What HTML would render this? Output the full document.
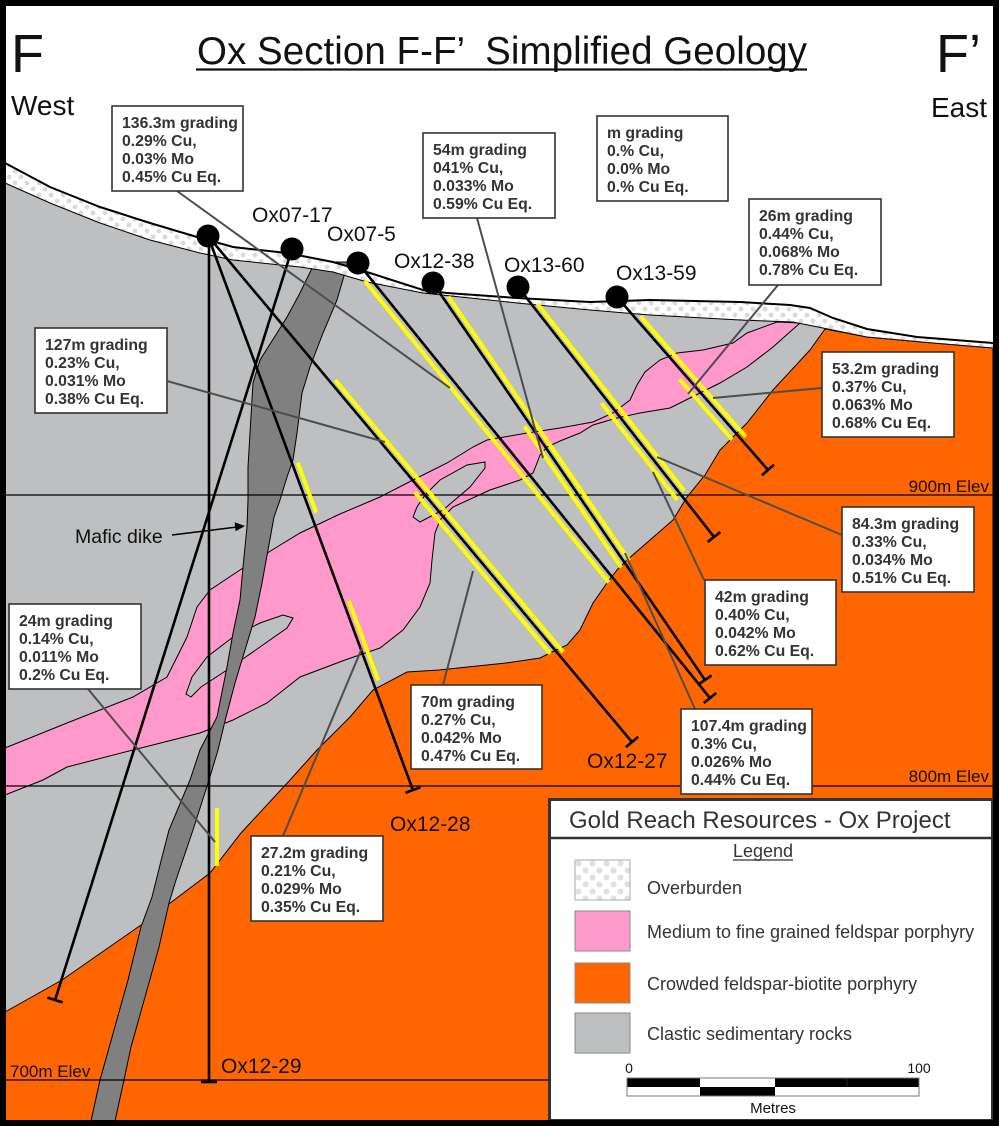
<!DOCTYPE html>
<html><head><meta charset="utf-8"><style>
html,body{margin:0;padding:0;background:#fff;}
svg{display:block;}
text{font-family:"Liberation Sans",Arial,sans-serif;}
.bx{fill:#fff;stroke:#333;stroke-width:1.6;}
.bt{font-weight:bold;font-size:15.8px;fill:#333;}
.hl{font-size:21px;fill:#111;}
.ld{stroke:#4d4d4d;stroke-width:2;fill:none;}
.hole{stroke:#000;stroke-width:2.6;fill:none;}
.yl{stroke:#ffff00;stroke-width:4;fill:none;}
.el{font-size:17px;fill:#111;}
</style></head><body>
<svg width="1000" height="1126" viewBox="0 0 1000 1126" xmlns="http://www.w3.org/2000/svg">
<defs>
<pattern id="ob" width="12" height="12" patternUnits="userSpaceOnUse">
<rect width="12" height="12" fill="#fff"/>
<circle cx="3" cy="3" r="2.4" fill="#dadada"/>
<circle cx="9" cy="9" r="2.4" fill="#dadada"/>
</pattern>
<pattern id="ob2" width="14" height="14" patternUnits="userSpaceOnUse" x="575" y="860">
<rect width="14" height="14" fill="#fff"/>
<circle cx="3.5" cy="3.5" r="3" fill="#e0e0e0"/>
<circle cx="10.5" cy="10.5" r="3" fill="#e0e0e0"/>
</pattern>
</defs>
<rect width="1000" height="1126" fill="#fff"/>

<!-- gray sediments -->
<polygon fill="#bebfc1" points="5,183 50,203 100,223 150,240 200,253 233,260 300,267 333,272 367,282 423,293 517,303 590,310 650,315 740,320 793,322 823,328 867,337 933,343 993,348 993,1121 5,1121"/>

<!-- orange porphyry -->
<polygon fill="#ff6600" stroke="#000" stroke-width="1" points="5,1012 62,980 141,925 210,873 241,833 290,780 317,750 350,717 373,690 407,672 439,670 506,663 540,658 550,653 567,645 580,630 593,603 607,583 617,570 627,560 650,540 673,520 687,497 705,475 720,450 747,423 773,390 810,350 825,329 867,337 933,343 993,348 993,1121 5,1121"/>

<!-- pink porphyry -->
<path fill="#ff99cc" stroke="#000" stroke-width="1" d="M800,323 L773,347 L747,367 L720,383 L700,393 L670,408 L640,413 L617,418 L593,425 L580,433 L560,441 L547,447 L540,455 L537,463 L533,473 L520,480 L490,490 L453,507 L440,520 L435,533 L432,560 L430,583 L420,607 L403,630 L380,648 L345,660 L300,677 L267,703 L233,720 L200,733 L133,750 L67,767 L43,780 L5,795 L5,748 L67,723 L133,697 L167,677 L187,637 L197,607 L210,590 L240,570 L277,547 L300,533 L340,514 L380,497 L413,480 L447,463 L473,447 L487,440 L527,433 L560,428 L593,422 L613,413 L630,400 L637,385 L645,372 L660,360 L677,353 L703,350 L733,343 L747,333 L777,322 Z"/>
<!-- lenses -->
<path fill="#bebfc1" stroke="#000" stroke-width="1" d="M485,462 L467,465 L440,480 L425,495 L417,507 L413,517 L420,522 L443,510 L470,487 L485,468 Z"/>
<path fill="#bebfc1" stroke="#000" stroke-width="1" d="M293,618 L283,615 L260,623 L233,637 L207,657 L192,677 L186,694 L191,697 L201,687 L227,670 L260,647 L287,628 Z"/>

<!-- mafic dike -->
<polygon fill="#808080" stroke="#000" stroke-width="1" points="315,262 300,293 287,317 277,333 260,360 253,383 250,433 248,467 248,500 247,527 243,567 240,600 233,633 227,667 217,717 200,750 190,780 169,830 162,857 152,897 141,927 128,980 114,1030 100,1080 91,1121 115,1121 124,1080 131,1047 145,997 159,947 169,903 176,880 193,830 209,780 218,750 226,717 235,683 245,650 255,617 262,583 268,550 274,517 280,500 287,477 293,460 297,433 302,393 310,367 323,333 337,300 348,262"/>

<!-- overburden -->
<polygon fill="url(#ob)" points="5,163 50,187 100,207 150,223 197,237 233,247 287,253 333,262 370,273 423,290 447,293 517,298 590,302 650,300 740,302 790,305 810,308 833,318 867,329 917,337 993,343 993,348 933,343 867,337 823,328 793,322 740,320 650,315 590,310 517,303 423,293 367,282 333,272 300,267 233,260 200,253 150,240 100,223 50,203 5,183"/>
<polyline fill="none" stroke="#000" stroke-width="2" points="5,163 50,187 100,207 150,223 197,237 233,247 287,253 333,262 370,273 423,290 447,293 517,298 590,302 650,300 740,302 790,305 810,308 833,318 867,329 917,337 993,343"/>
<polyline fill="none" stroke="#000" stroke-width="1" points="5,183 50,203 100,223 150,240 200,253 233,260 300,267 333,272 367,282 423,293 517,303 590,310 650,315 740,320 793,322 823,328 867,337 933,343 993,348"/>

<!-- elevation lines -->
<line x1="5" y1="495" x2="993" y2="495" stroke="#000" stroke-width="1.2"/>
<line x1="5" y1="786" x2="993" y2="786" stroke="#000" stroke-width="1.2"/>
<line x1="5" y1="1080" x2="993" y2="1080" stroke="#000" stroke-width="1.2"/>
<text class="el" x="989" y="492" text-anchor="end">900m Elev</text>
<text class="el" x="989" y="782" text-anchor="end">800m Elev</text>
<text class="el" x="10" y="1077">700m Elev</text>

<!-- drill holes -->
<line class="hole" x1="209" y1="236" x2="209" y2="1082"/>
<line class="hole" x1="201" y1="1082" x2="217" y2="1082"/>
<line class="yl" x1="217" y1="808" x2="217" y2="866"/>
<g transform="translate(208,236) rotate(69.7)">
<line class="yl" x1="244" y1="-5.5" x2="297" y2="-5.5"/>
<line class="yl" x1="391" y1="-5.5" x2="476" y2="-5.5"/>
<line class="hole" x1="0" y1="0" x2="590.7" y2="0"/>
<line class="hole" x1="590.7" y1="-8" x2="590.7" y2="8"/>
</g>
<g transform="translate(208,236) rotate(50.04)">
<line class="yl" x1="192" y1="-5" x2="547" y2="-5"/>
<line class="yl" x1="329" y1="6" x2="540" y2="6"/>
<line class="hole" x1="0" y1="0" x2="660.2" y2="0"/>
<line class="hole" x1="660.2" y1="-8" x2="660.2" y2="8"/>
</g>
<g transform="translate(292,249) rotate(107.51)">
<line class="hole" x1="0" y1="0" x2="787.5" y2="0"/>
<line class="hole" x1="787.5" y1="-8" x2="787.5" y2="8"/>
</g>
<g transform="translate(358,263) rotate(51.02)">
<line class="yl" x1="18" y1="6" x2="406" y2="6"/>
<line class="hole" x1="0" y1="0" x2="559.6" y2="0"/>
<line class="hole" x1="559.6" y1="-8" x2="559.6" y2="8"/>
</g>
<g transform="translate(433,283) rotate(55.58)">
<line class="yl" x1="20" y1="-5" x2="340" y2="-5"/>
<line class="yl" x1="170" y1="5.5" x2="341" y2="5.5"/>
<line class="hole" x1="0" y1="0" x2="481.2" y2="0"/>
<line class="hole" x1="481.2" y1="-8" x2="481.2" y2="8"/>
</g>
<g transform="translate(518,287) rotate(51.9)">
<line class="yl" x1="25" y1="-5" x2="263" y2="-5"/>
<line class="yl" x1="143" y1="6" x2="266" y2="6"/>
<line class="hole" x1="0" y1="0" x2="317.7" y2="0"/>
<line class="hole" x1="317.7" y1="-8" x2="317.7" y2="8"/>
</g>
<g transform="translate(617,297) rotate(48.88)">
<line class="yl" x1="30" y1="-5" x2="190" y2="-5"/>
<line class="yl" x1="103" y1="7" x2="183" y2="7"/>
<line class="hole" x1="0" y1="0" x2="229.6" y2="0"/>
<line class="hole" x1="229.6" y1="-8" x2="229.6" y2="8"/>
</g>

<!-- leader lines -->
<line class="ld" x1="177" y1="191" x2="450" y2="388"/>
<line class="ld" x1="477" y1="218" x2="543" y2="458"/>
<line class="ld" x1="778" y1="285" x2="688" y2="394"/>
<line class="ld" x1="167" y1="381" x2="385" y2="442"/>
<line class="ld" x1="822" y1="388" x2="713" y2="398"/>
<line class="ld" x1="842" y1="535" x2="657" y2="457"/>
<line class="ld" x1="704" y1="580" x2="653" y2="472"/>
<line class="ld" x1="88" y1="689" x2="215" y2="842"/>
<line class="ld" x1="443" y1="685" x2="473" y2="571"/>
<line class="ld" x1="695" y1="709" x2="625" y2="553"/>
<line class="ld" x1="283" y1="836" x2="362" y2="648"/>

<!-- collars -->
<circle cx="208" cy="236" r="11.5" fill="#000"/>
<circle cx="292" cy="249" r="11.5" fill="#000"/>
<circle cx="358" cy="263" r="11.5" fill="#000"/>
<circle cx="433" cy="283" r="11.5" fill="#000"/>
<circle cx="518" cy="287" r="11.5" fill="#000"/>
<circle cx="617" cy="297" r="11.5" fill="#000"/>

<!-- hole labels -->
<text class="hl" x="252" y="222">Ox07-17</text>
<text class="hl" x="327" y="241">Ox07-5</text>
<text class="hl" x="394" y="268">Ox12-38</text>
<text class="hl" x="504" y="272">Ox13-60</text>
<text class="hl" x="616" y="280">Ox13-59</text>
<text class="hl" x="390" y="831">Ox12-28</text>
<text class="hl" x="587" y="768">Ox12-27</text>
<text class="hl" x="221" y="1073">Ox12-29</text>

<!-- mafic dike label -->
<text x="75" y="543" style="font-size:19.5px;fill:#111">Mafic dike</text>
<line x1="172" y1="535" x2="237" y2="527" stroke="#000" stroke-width="1.5"/>
<polygon points="245,526 235.6,531.3 234.6,522.3" fill="#000"/>

<!-- grading boxes -->
<g>
<rect class="bx" x="112" y="106" width="131" height="85"/>
<text class="bt" x="122" y="128">136.3m grading</text><text class="bt" x="122" y="146">0.29% Cu,</text><text class="bt" x="122" y="164">0.03% Mo</text><text class="bt" x="122" y="182">0.45% Cu Eq.</text>

<rect class="bx" x="423" y="133" width="132" height="85"/>
<text class="bt" x="433" y="155">54m grading</text><text class="bt" x="433" y="173">041% Cu,</text><text class="bt" x="433" y="191">0.033% Mo</text><text class="bt" x="433" y="209">0.59% Cu Eq.</text>

<rect class="bx" x="597" y="116" width="131" height="85"/>
<text class="bt" x="607" y="138">m grading</text><text class="bt" x="607" y="156">0.% Cu,</text><text class="bt" x="607" y="174">0.0% Mo</text><text class="bt" x="607" y="192">0.% Cu Eq.</text>

<rect class="bx" x="749" y="199" width="132" height="86"/>
<text class="bt" x="759" y="221">26m grading</text><text class="bt" x="759" y="239">0.44% Cu,</text><text class="bt" x="759" y="257">0.068% Mo</text><text class="bt" x="759" y="275">0.78% Cu Eq.</text>

<rect class="bx" x="35" y="328" width="132" height="85"/>
<text class="bt" x="45" y="350">127m grading</text><text class="bt" x="45" y="368">0.23% Cu,</text><text class="bt" x="45" y="386">0.031% Mo</text><text class="bt" x="45" y="404">0.38% Cu Eq.</text>

<rect class="bx" x="822" y="352" width="132" height="85"/>
<text class="bt" x="832" y="374">53.2m grading</text><text class="bt" x="832" y="392">0.37% Cu,</text><text class="bt" x="832" y="410">0.063% Mo</text><text class="bt" x="832" y="428">0.68% Cu Eq.</text>

<rect class="bx" x="842" y="507" width="132" height="85"/>
<text class="bt" x="852" y="529">84.3m grading</text><text class="bt" x="852" y="547">0.33% Cu,</text><text class="bt" x="852" y="565">0.034% Mo</text><text class="bt" x="852" y="583">0.51% Cu Eq.</text>

<rect class="bx" x="705" y="580" width="131" height="85"/>
<text class="bt" x="715" y="602">42m grading</text><text class="bt" x="715" y="620">0.40% Cu,</text><text class="bt" x="715" y="638">0.042% Mo</text><text class="bt" x="715" y="656">0.62% Cu Eq.</text>

<rect class="bx" x="9" y="604" width="132" height="85"/>
<text class="bt" x="19" y="626">24m grading</text><text class="bt" x="19" y="644">0.14% Cu,</text><text class="bt" x="19" y="662">0.011% Mo</text><text class="bt" x="19" y="680">0.2% Cu Eq.</text>

<rect class="bx" x="411" y="685" width="131" height="84"/>
<text class="bt" x="421" y="707">70m grading</text><text class="bt" x="421" y="725">0.27% Cu,</text><text class="bt" x="421" y="743">0.042% Mo</text><text class="bt" x="421" y="761">0.47% Cu Eq.</text>

<rect class="bx" x="681" y="709" width="131" height="85"/>
<text class="bt" x="691" y="731">107.4m grading</text><text class="bt" x="691" y="749">0.3% Cu,</text><text class="bt" x="691" y="767">0.026% Mo</text><text class="bt" x="691" y="785">0.44% Cu Eq.</text>

<rect class="bx" x="251" y="836" width="132" height="85"/>
<text class="bt" x="261" y="858">27.2m grading</text><text class="bt" x="261" y="876">0.21% Cu,</text><text class="bt" x="261" y="894">0.029% Mo</text><text class="bt" x="261" y="912">0.35% Cu Eq.</text>
</g>

<!-- titles -->
<text x="197" y="64" style="font-size:38.5px;fill:#111" textLength="610" xml:space="preserve">Ox Section F-F’  Simplified Geology</text>
<line x1="196" y1="69.5" x2="807" y2="69.5" stroke="#111" stroke-width="2.2"/>
<text x="11" y="72" style="font-size:54px;fill:#111">F</text>
<text x="936" y="72" style="font-size:54px;fill:#111">F’</text>
<text x="11" y="115" style="font-size:28px;fill:#111">West</text>
<text x="931" y="117" style="font-size:28px;fill:#111">East</text>

<!-- legend -->
<rect x="549.5" y="799.5" width="443" height="321" fill="#fff" stroke="#333" stroke-width="3"/>
<line x1="549" y1="838" x2="993" y2="838" stroke="#333" stroke-width="2.5"/>
<text x="569" y="828" style="font-size:24px;fill:#333">Gold Reach Resources - Ox Project</text>
<text x="763" y="857" text-anchor="middle" style="font-size:18px;fill:#333">Legend</text>
<line x1="733" y1="860" x2="793" y2="860" stroke="#333" stroke-width="1.2"/>
<rect x="575" y="860" width="55" height="40" fill="url(#ob2)" stroke="#aaa" stroke-width="1"/>
<rect x="575" y="911" width="55" height="40" fill="#ff99cc" stroke="#888" stroke-width="1"/>
<rect x="575" y="963" width="55" height="40" fill="#ff6600" stroke="#888" stroke-width="1"/>
<rect x="575" y="1013" width="55" height="40" fill="#bebfc1" stroke="#888" stroke-width="1"/>
<text x="647" y="894" style="font-size:18px;fill:#333">Overburden</text>
<text x="647" y="938" style="font-size:18px;fill:#333">Medium to fine grained feldspar porphyry</text>
<text x="647" y="990" style="font-size:18px;fill:#333">Crowded feldspar-biotite porphyry</text>
<text x="647" y="1040" style="font-size:18px;fill:#333">Clastic sedimentary rocks</text>
<!-- scale bar -->
<text x="629" y="1073" text-anchor="middle" style="font-size:14px;fill:#111">0</text>
<text x="919" y="1073" text-anchor="middle" style="font-size:14px;fill:#111">100</text>
<rect x="627" y="1078" width="73" height="9" fill="#000"/>
<rect x="700" y="1078" width="75" height="9" fill="#fff"/>
<rect x="775" y="1078" width="144" height="9" fill="#000"/>
<rect x="627" y="1087" width="73" height="9" fill="#fff"/>
<rect x="700" y="1087" width="75" height="9" fill="#000"/>
<rect x="775" y="1087" width="144" height="9" fill="#fff"/>
<rect x="627" y="1078" width="292" height="18" fill="none" stroke="#777" stroke-width="1"/>
<line x1="847" y1="1078" x2="847" y2="1087" stroke="#333" stroke-width="0.8"/>
<text x="773" y="1113" text-anchor="middle" style="font-size:15px;fill:#111">Metres</text>

<!-- frame -->
<rect x="3" y="3" width="993" height="1120" fill="none" stroke="#000" stroke-width="6"/>
</svg>
</body></html>
